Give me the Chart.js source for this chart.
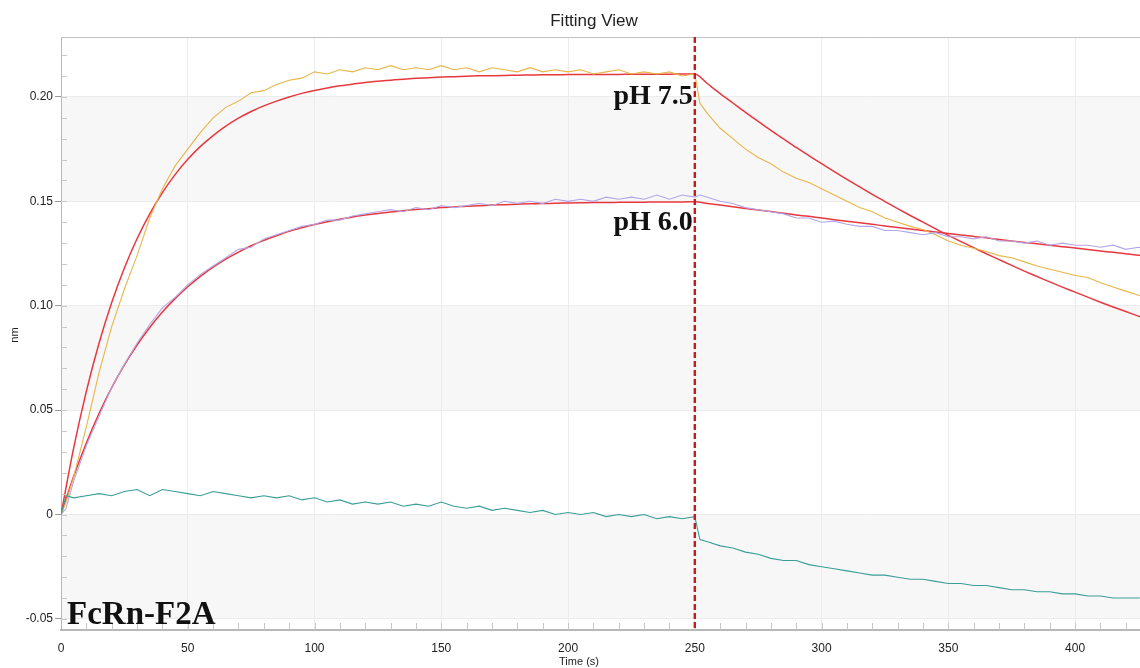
<!DOCTYPE html>
<html>
<head>
<meta charset="utf-8">
<script src="https://cdn.jsdelivr.net/npm/chart.js@4"></script>
<style>
  html, body { margin: 0; padding: 0; background: #fff; }
  #wrap { width: 1140px; height: 668px; }
</style>
</head>
<body>
<div id="wrap"><canvas id="chart-fit" width="1140" height="668"></canvas></div>
<script>
// raw sensor traces (s / nm)
const timeS = [0, 2, 5, 10, 15, 20, 25, 30, 35, 40, 45, 50, 55, 60, 65, 70, 75, 80, 85, 90, 95, 100,
  105, 110, 115, 120, 125, 130, 135, 140, 145, 150, 155, 160, 165, 170, 175, 180, 185, 190, 195, 200,
  205, 210, 215, 220, 225, 230, 235, 240, 245, 250, 252, 255, 260, 265, 270, 275, 280, 285, 290, 295,
  300, 305, 310, 315, 320, 325, 330, 335, 340, 345, 350, 355, 360, 365, 370, 375, 380, 385, 390, 395,
  400, 405, 410, 415, 420, 425, 430];

const ph75 = [0.000, 0.006, 0.018, 0.042, 0.068, 0.090, 0.108, 0.124, 0.142, 0.156, 0.167, 0.175, 0.183,
  0.190, 0.195, 0.198, 0.202, 0.203, 0.206, 0.208, 0.209, 0.212, 0.211, 0.213, 0.212, 0.214, 0.213, 0.215,
  0.213, 0.214, 0.213, 0.215, 0.213, 0.214, 0.212, 0.214, 0.213, 0.212, 0.214, 0.212, 0.213, 0.212, 0.213,
  0.211, 0.212, 0.213, 0.211, 0.212, 0.211, 0.212, 0.210, 0.211,
  0.197, 0.192, 0.185, 0.180, 0.175, 0.171, 0.168, 0.164, 0.161, 0.159, 0.156, 0.153, 0.150, 0.147, 0.145,
  0.142, 0.140, 0.138, 0.1365, 0.134, 0.131, 0.129, 0.1275, 0.126, 0.124, 0.123, 0.121, 0.119, 0.1175,
  0.116, 0.1145, 0.1135, 0.111, 0.109, 0.107, 0.105, 0.104];

const ph60 = [0.000, 0.003, 0.016, 0.033, 0.047, 0.061, 0.072, 0.082, 0.091, 0.099, 0.104, 0.110, 0.115,
  0.119, 0.123, 0.127, 0.128, 0.132, 0.134, 0.136, 0.138, 0.139, 0.141, 0.141, 0.143, 0.144, 0.145, 0.146,
  0.145, 0.147, 0.146, 0.148, 0.147, 0.148, 0.149, 0.148, 0.150, 0.149, 0.150, 0.149, 0.151, 0.150, 0.151,
  0.150, 0.152, 0.151, 0.152, 0.151, 0.153, 0.151, 0.153, 0.152,
  0.153, 0.152, 0.150, 0.149, 0.147, 0.146, 0.145, 0.144, 0.142, 0.142, 0.140, 0.1405, 0.139, 0.138, 0.138,
  0.136, 0.136, 0.135, 0.134, 0.135, 0.133, 0.133, 0.132, 0.133, 0.131, 0.131, 0.130, 0.131, 0.129, 0.130,
  0.129, 0.129, 0.128, 0.129, 0.127, 0.128, 0.127];

const reference = [0.000, 0.009, 0.008, 0.009, 0.010, 0.009, 0.011, 0.012, 0.009, 0.012, 0.011, 0.010, 0.009,
  0.011, 0.010, 0.009, 0.008, 0.009, 0.008, 0.009, 0.007, 0.008, 0.006, 0.007, 0.005, 0.006, 0.005, 0.006,
  0.004, 0.005, 0.004, 0.006, 0.004, 0.003, 0.004, 0.002, 0.003, 0.002, 0.001, 0.002, 0.000, 0.001, 0.000,
  0.001, -0.001, 0.000, -0.001, 0.000, -0.002, -0.001, -0.002, -0.001,
  -0.012, -0.013, -0.015, -0.016, -0.018, -0.019, -0.021, -0.022, -0.022, -0.024, -0.025, -0.026, -0.027,
  -0.028, -0.029, -0.029, -0.030, -0.031, -0.031, -0.032, -0.033, -0.033, -0.034, -0.034, -0.035, -0.036,
  -0.036, -0.037, -0.037, -0.038, -0.038, -0.039, -0.039, -0.040, -0.040, -0.040, -0.039];

// fitted curves
const fitTime = [0, 5, 10, 15, 20, 25, 30, 35, 40, 45, 50, 55, 60, 65, 70, 75, 80, 85, 90, 95, 100,
  105, 110, 115, 120, 125, 130, 135, 140, 145, 150, 155, 160, 165, 170, 175, 180, 185, 190, 195, 200,
  205, 210, 215, 220, 225, 230, 235, 240, 245, 250, 255, 260, 265, 270, 275, 280, 285, 290, 295,
  300, 305, 310, 315, 320, 325, 330, 335, 340, 345, 350, 355, 360, 365, 370, 375, 380, 385, 390, 395,
  400, 405, 410, 415, 420, 425, 430];

const fit75 = [0, 0.0319, 0.0590, 0.0820, 0.1015, 0.1181, 0.1321, 0.1440, 0.1542, 0.1628, 0.1701, 0.1763,
  0.1815, 0.1860, 0.1898, 0.1930, 0.1957, 0.1980, 0.2000, 0.2017, 0.2031, 0.2043, 0.2053, 0.2061, 0.2069,
  0.2075, 0.2080, 0.2085, 0.2089, 0.2092, 0.2095, 0.2097, 0.2099, 0.2101, 0.2102, 0.2103, 0.2104, 0.2105,
  0.2106, 0.2106, 0.2107, 0.2107, 0.2108, 0.2108, 0.2108, 0.2109, 0.2109, 0.2109, 0.2109, 0.2110, 0.2110,
  0.2063, 0.2016, 0.1971, 0.1926, 0.1883, 0.1840, 0.1799, 0.1758, 0.1719, 0.1680, 0.1642, 0.1605, 0.1569,
  0.1533, 0.1499, 0.1465, 0.1432, 0.1400, 0.1368, 0.1337, 0.1307, 0.1278, 0.1249, 0.1221, 0.1193, 0.1166,
  0.1140, 0.1114, 0.1089, 0.1065, 0.1041, 0.1017, 0.0994, 0.0972, 0.0950, 0.0929];

const fit60 = [0, 0.0183, 0.0343, 0.0484, 0.0608, 0.0717, 0.0812, 0.0896, 0.0970, 0.1034, 0.1091, 0.1141,
  0.1185, 0.1223, 0.1257, 0.1287, 0.1313, 0.1335, 0.1356, 0.1373, 0.1389, 0.1402, 0.1414, 0.1425, 0.1434,
  0.1442, 0.1449, 0.1455, 0.1461, 0.1465, 0.1470, 0.1473, 0.1477, 0.1479, 0.1482, 0.1484, 0.1486, 0.1488,
  0.1489, 0.1491, 0.1492, 0.1493, 0.1494, 0.1494, 0.1495, 0.1496, 0.1496, 0.1497, 0.1497, 0.1497, 0.1498,
  0.1490, 0.1482, 0.1474, 0.1466, 0.1458, 0.1451, 0.1443, 0.1435, 0.1428, 0.1420, 0.1412, 0.1405, 0.1397,
  0.1390, 0.1382, 0.1375, 0.1368, 0.1360, 0.1353, 0.1346, 0.1339, 0.1332, 0.1325, 0.1317, 0.1310, 0.1303,
  0.1297, 0.1290, 0.1283, 0.1276, 0.1269, 0.1262, 0.1256, 0.1249, 0.1242, 0.1236];

const xTicks = [0, 50, 100, 150, 200, 250, 300, 350, 400];
const yTicks = [-0.05, 0, 0.05, 0.10, 0.15, 0.20];
const switchTime = 250;

const pts = (xs, ys) => xs.map((x, i) => ({ x: x, y: ys[i] }));
const SANS = '"Liberation Sans", Arial, sans-serif';
const SERIF = '"Liberation Serif", "Times New Roman", serif';

// bands, minor ticks, dashed marker, labels
const decor = {
  id: 'decor',
  beforeDraw(chart) {
    const { ctx, chartArea: a, scales: { y } } = chart;
    ctx.save();
    ctx.fillStyle = '#f7f7f7';
    [[0.15, 0.20], [0.05, 0.10], [-0.05, 0]].forEach(([lo, hi]) => {
      const t = y.getPixelForValue(hi), b = y.getPixelForValue(lo);
      ctx.fillRect(a.left, t, a.right - a.left, b - t);
    });
    ctx.restore();
  },
  afterDatasetsDraw(chart) {
    const { ctx, chartArea: a, scales: { x, y } } = chart;
    ctx.save();
    // top frame line
    ctx.strokeStyle = '#c4c4c4';
    ctx.lineWidth = 1;
    ctx.beginPath();
    ctx.moveTo(a.left, a.top + 0.5);
    ctx.lineTo(a.right, a.top + 0.5);
    ctx.stroke();
    // minor ticks
    ctx.strokeStyle = '#c8c8c8';
    ctx.beginPath();
    for (let v = 10; v <= 420; v += 10) {
      const px = Math.round(x.getPixelForValue(v)) + 0.5;
      ctx.moveTo(px, a.bottom);
      ctx.lineTo(px, a.bottom - 7);
    }
    for (let k = -5; k <= 22; k++) {
      const py = Math.round(y.getPixelForValue(k / 100)) + 0.5;
      ctx.moveTo(a.left, py);
      ctx.lineTo(a.left + 6, py);
    }
    ctx.stroke();
    // switch marker
    const sx = x.getPixelForValue(switchTime);
    ctx.strokeStyle = '#cc1a1a';
    ctx.lineWidth = 2.4;
    ctx.setLineDash([6, 3]);
    ctx.beginPath();
    ctx.moveTo(sx, a.top);
    ctx.lineTo(sx, a.bottom);
    ctx.stroke();
    ctx.setLineDash([]);
    // annotations
    ctx.fillStyle = '#111';
    ctx.font = 'bold 28px ' + SERIF;
    ctx.textAlign = 'right';
    ctx.textBaseline = 'alphabetic';
    ctx.fillText('pH 7.5', sx - 2, 104);
    ctx.fillText('pH 6.0', sx - 2, 230);
    ctx.textAlign = 'left';
    ctx.font = 'bold 33px ' + SERIF;
    ctx.fillText('FcRn-F2A', 67, 624);
    // titles
    ctx.fillStyle = '#222';
    ctx.textAlign = 'center';
    ctx.textBaseline = 'middle';
    ctx.font = '17px ' + SANS;
    ctx.fillText('Fitting View', 594, 21);
    ctx.font = '11px ' + SANS;
    ctx.fillText('Time (s)', 579, 662);
    ctx.translate(15, 335);
    ctx.rotate(-Math.PI / 2);
    ctx.fillText('nm', 0, 0);
    ctx.restore();
  }
};

const trace = (label, xs, ys, color) => ({
  label: label, data: pts(xs, ys), borderColor: color, borderWidth: 1.1,
  pointRadius: 0, tension: 0, fill: false
});
const fit = (label, ys) => ({
  label: label, data: pts(fitTime, ys), borderColor: '#e8383f', borderWidth: 1.5,
  pointRadius: 0, cubicInterpolationMode: 'monotone', fill: false
});

const ctxFit = document.getElementById('chart-fit').getContext('2d');
const chartFit = new Chart(ctxFit, {
  type: 'line',
  data: {
    datasets: [
      trace('Reference', timeS, reference, '#3a9e98'),
      trace('pH 6.0', timeS, ph60, '#b3a6e8'),
      trace('pH 7.5', timeS, ph75, '#e8b548'),
      fit('Fit pH 6.0', fit60),
      fit('Fit pH 7.5', fit75)
    ]
  },
  options: {
    responsive: false,
    animation: false,
    layout: { padding: { top: 37, right: 0, left: 0, bottom: 0 } },
    plugins: { legend: { display: false }, title: { display: false }, tooltip: { enabled: false } },
    scales: {
      x: {
        type: 'linear', min: 0, max: 425.6,
        afterBuildTicks: s => { s.ticks = xTicks.map(v => ({ value: v })); },
        afterFit: s => { s.height = 38; },
        border: { color: '#b8b8b8', width: 2 },
        grid: { color: '#ececec', drawTicks: false },
        ticks: { padding: 11, color: '#222', font: { size: 12, family: SANS }, maxRotation: 0 }
      },
      y: {
        min: -0.0553, max: 0.2287,
        afterBuildTicks: s => { s.ticks = yTicks.map(v => ({ value: v })); },
        afterFit: s => { s.width = 61; },
        border: { color: '#b8b8b8', width: 1 },
        grid: { color: '#ececec', tickLength: 6, tickColor: '#999' },
        ticks: {
          padding: 2, color: '#222', font: { size: 12, family: SANS },
          callback: v => (v === 0 ? '0' : v.toFixed(2))
        }
      }
    }
  },
  plugins: [decor]
});
</script>
</body>
</html>
